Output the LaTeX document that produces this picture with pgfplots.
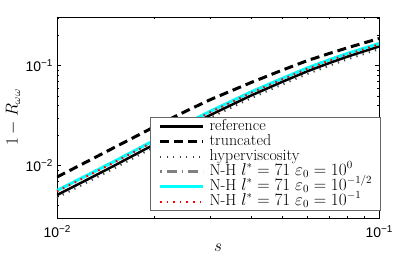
\documentclass[border=0pt]{standalone}
\usepackage{fontspec}
\usepackage{pgfplots}
\pgfplotsset{compat=1.18}
\newfontfamily\tsf{Liberation Sans}
\newcommand{\tl}[1]{{\tsf\fontsize{14}{14}\selectfont 10\raisebox{5.5bp}{\fontsize{10}{10}\selectfont #1}}}
\definecolor{nhgray}{rgb}{0.5,0.5,0.5}
\definecolor{mcyan}{rgb}{0,1,1}
\definecolor{mred}{rgb}{1,0,0}

\pgfplotstableread{
s      ref      trunc    hyper    nh0      cyan     red
0.01   0.00509  0.00771  0.00478  0.00565  0.00565  0.00554
0.0125 0.00734  0.01114  0.00690  0.00812  0.00812  0.00796
0.015  0.00995  0.01510  0.00935  0.01097  0.01097  0.01075
0.02   0.01626  0.02438  0.01528  0.01785  0.01785  0.01749
0.025  0.02382  0.03483  0.02239  0.02606  0.02606  0.02554
0.03   0.03221  0.04592  0.03028  0.03514  0.03514  0.03444
0.04   0.05023  0.06776  0.04722  0.05455  0.05455  0.05346
0.05   0.06887  0.09016  0.06474  0.07452  0.07452  0.07303
0.06   0.08810  0.11270  0.08281  0.09506  0.09506  0.09316
0.07   0.10620  0.13240  0.09983  0.11440  0.11440  0.11210
0.08   0.12360  0.15140  0.11620  0.13290  0.13290  0.13020
0.09   0.13960  0.16940  0.13120  0.14970  0.14970  0.14670
0.1    0.15560  0.18710  0.14630  0.16650  0.16650  0.16320
}\datatable

\begin{document}
\begin{tikzpicture}
\useasboundingbox (-57bp,-37bp) rectangle (342bp,218bp);
\begin{axis}[
  name=ax, at={(0,0)}, anchor=south west,
  scale only axis, width=322bp, height=201bp,
  xmode=log, ymode=log,
  xmin=0.01, xmax=0.1, ymin=0.0030, ymax=0.307,
  xtick={0.01,0.1}, xticklabels={\tl{−2},\tl{−1}},
  ytick={0.01,0.1}, yticklabels={\tl{−2},\tl{−1}},
  minor xtick={0.02,0.03,0.04,0.05,0.06,0.07,0.08,0.09},
  minor ytick={0.004,0.005,0.006,0.007,0.008,0.009,0.02,0.03,0.04,0.05,0.06,0.07,0.08,0.09,0.2,0.3},
  tick align=inside,
  major tick length=4bp, minor tick length=2.5bp,
  axis line style={line width=0.8bp},
  every tick/.style={black, line width=0.6bp},
  xticklabel style={yshift=-4bp},
  yticklabel style={xshift=-1bp},
  label style={font=\fontsize{16}{16}\selectfont},
  xlabel={$s$},
  xlabel style={at={(axis description cs:0.5,0)}, anchor=center, yshift=-30bp},
  ylabel={$1-R_{\omega\omega}$},
  ylabel style={at={(axis description cs:0,0.5)}, anchor=center, yshift=44bp},
  legend cell align=left,
  legend image code/.code={\draw[#1] (0bp,0bp) -- (43bp,0bp);},
  legend style={at={(0.2888,0.5025)}, anchor=north west,
    draw=black!60, line width=1.2bp, fill=white,
    inner xsep=8bp, inner ysep=1.5bp,
    font=\fontsize{16}{16}\selectfont,
    nodes={inner sep=0pt, text height=11bp, text depth=4bp},
    /tikz/every odd column/.append style={column sep=5bp},
    row sep=0pt},
]
\addplot[black, line width=2.5bp] table[x=s, y=ref] {\datatable};
\addlegendentry{reference}
\addplot[black, line width=3bp, dash pattern=on 9bp off 5bp] table[x=s, y=trunc] {\datatable};
\addlegendentry{truncated}
\addplot[black!75, line width=2bp, dash pattern=on 1.2bp off 5.3bp] table[x=s, y=hyper] {\datatable};
\addlegendentry{hyperviscosity}
\addplot[nhgray, line width=2.5bp, dash pattern=on 1.5bp off 5bp on 10bp off 5bp] table[x=s, y=nh0] {\datatable};
\addlegendentry{N-H $l^*=71$ $\varepsilon_0=10^{0}$}
\addplot[mcyan, line width=3bp] table[x=s, y=cyan] {\datatable};
\addlegendentry{N-H $l^*=71$ $\varepsilon_0=10^{-1/2}$}
\addplot[mred, line width=2bp, dash pattern=on 1.6bp off 5bp] table[x=s, y=red] {\datatable};
\addlegendentry{N-H $l^*=71$ $\varepsilon_0=10^{-1}$}
\end{axis}
\end{tikzpicture}
\end{document}
